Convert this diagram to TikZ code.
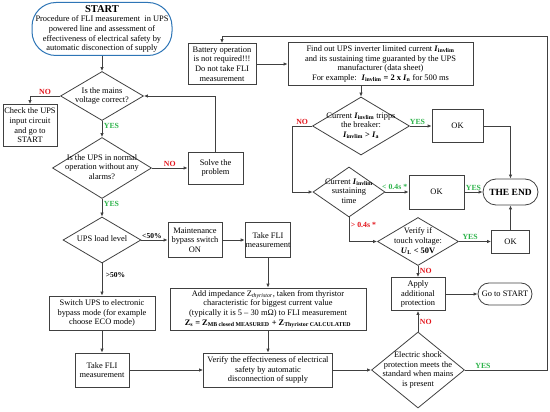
\documentclass[tikz,border=0pt]{standalone}
\usepackage{fontspec}
\setmainfont{Liberation Serif}
\usetikzlibrary{shapes.geometric, arrows.meta}

\definecolor{linegray}{HTML}{404040}
\definecolor{startblue}{HTML}{2E75B6}
\definecolor{nored}{HTML}{E3141B}
\definecolor{yesgreen}{HTML}{2DB34A}

% text of a diamond, kept out of the size of the shape
\newcommand{\dtext}[1]{\smash{\makebox[0pt]{\raisebox{-2pt}{\begin{tabular}{@{}c@{}}#1\end{tabular}}}}}
\newcommand{\Iinv}{\textbf{\textit{I}\textsubscript{invlim}}}

\tikzset{
  dims/.style 2 args={minimum width=#1pt, minimum height=#2pt},
  box/.style={draw=linegray, line width=0.8pt, align=center, inner sep=0.5pt, font=\fontsize{8.4}{9.6}\selectfont},
  decision/.style={draw=linegray, line width=0.8pt, diamond, inner sep=0pt, font=\fontsize{8.4}{9.6}\selectfont},
  terminal/.style={box, rounded corners=11pt},
  flow/.style={draw=linegray, line width=0.8pt},
  yes/.style={text=yesgreen, font=\bfseries\fontsize{7.8}{9}\selectfont, inner sep=1.5pt},
  no/.style={text=nored, font=\bfseries\fontsize{7.8}{9}\selectfont, inner sep=1.5pt},
  share/.style={font=\bfseries\fontsize{7.5}{9}\selectfont, inner sep=1.5pt},
}

\begin{document}
\begin{tikzpicture}[x=1pt, y=-1pt, >={Latex[length=4pt,width=3.5pt]}]
		\useasboundingbox (0,0) rectangle (550,412);

		% left column
		\node[terminal, draw=startblue, line width=1pt, rounded corners=24pt, dims={140}{53}] (start) at (102,29) {{\bfseries\fontsize{10.5}{12}\selectfont START}\\Procedure of FLI measurement \ in UPS\\powered line and assessment of\\effectiveness of electrical safety by\\automatic disconection of supply};
		\node[decision, dims={83}{49}] (d1) at (102,96) {\dtext{Is the mains\\voltage correct?}};
		\node[box, dims={54}{42}] (check) at (30,125.5) {Check the UPS\\input circuit\\and go to\\START};
		\node[decision, dims={99}{61}] (d2) at (102,168) {\dtext{Is the UPS in normal\\operation without any\\alarms?}};
		\node[box, dims={55}{32}] (solve) at (215.5,168) {Solve the\\problem};
		\node[decision, dims={78}{46}] (d3) at (102,240) {\dtext{UPS load level}};
		\node[box, dims={54}{35}] (maint) at (195,240) {Maintenance\\bypass switch\\ON};
		\node[box, dims={44}{35}] (take1) at (268,240) {Take FLI\\measurement};
		\node[box, dims={106}{34}] (switch) at (102,313) {Switch UPS to electronic\\bypass mode (for example\\choose ECO mode)};
		\node[box, dims={54}{34}] (take2) at (102,370) {Take FLI\\measurement};
		\node[box, dims={196}{42}] (add) at (268,309) {Add impedance Z\textsubscript{\textit{thyristor}}, taken from thyristor\\characteristic for biggest current value\\(typically it is 5 – 30 mΩ) to FLI measurement\\\textbf{Z\textsubscript{s} = Z\textsubscript{MB closed MEASURED} + Z\textsubscript{Thyristor CALCULATED}}};
		\node[box, dims={129}{34}] (verify) at (268,370) {Verify the effectiveness of electrical\\safety by automatic\\disconnection of supply};
		\node[decision, dims={93}{76}] (shock) at (418,370) {\dtext{Electric shock\\protection meets the\\standard when mains\\is present}};
		\node[box, dims={54}{33}] (apply) at (418,294) {Apply\\additional\\protection};
		\node[terminal, dims={54}{22}] (gostart) at (505,294) {Go to START};

		% right part
		\node[box, dims={68}{41}] (battery) at (222,64) {Battery operation\\is not required!!!\\Do not take FLI\\measurement};
		\node[box, dims={185}{43}] (find) at (380.5,64) {Find out UPS inverter limited current \Iinv\\and its sustaining time guaranted by the UPS\\manufacturer (data sheet)\\For example: \ \textbf{\textit{I}\textsubscript{invlim} = 2 x \textit{I}\textsubscript{n}} for 500 ms};
		\node[decision, dims={97}{58}] (dtrip) at (361,126) {\dtext{Current \Iinv{} tripps\\the breaker:\\\textbf{\textit{I}\textsubscript{invlim} > \textit{I}\textsubscript{a}}}};
		\node[box, dims={51}{33}] (ok1) at (457.5,126) {OK};
		\node[decision, dims={72}{50}] (dsus) at (349,192) {\dtext{Current \Iinv\\sustaining\\time}};
		\node[box, dims={55}{34}] (ok2) at (436.5,192) {OK};
		\node[terminal, dims={55}{26}, rounded corners=13pt, font=\bfseries\fontsize{9.5}{10}\selectfont] (theend) at (510.5,192) {THE END};
		\node[decision, dims={81}{48}] (dtouch) at (418,241.5) {\dtext{Verify if\\touch voltage:\\\textbf{\textit{U}\textsubscript{L} < 50V}}};
		\node[box, dims={38}{23}] (ok3) at (510.5,241.5) {OK};

		\coordinate (loopB) at (547,370);
		\coordinate (loopT) at (547,36);

		\path [->, flow] (start) edge (d1);
		\path [->, flow] (d1) edge node[yes, right, pos=0.3] {YES} (d2);
		\path [->, flow] (d2) edge node[no, above] {NO} (solve);
		\path [->, flow] (d2) edge node[yes, right, pos=0.3] {YES} (d3);
		\path [->, flow] (d3) edge node[share, above, pos=0.4] {<50\%} (maint);
		\path [->, flow] (d3) edge node[share, right, xshift=2pt, pos=0.35] {>50\%} (switch);
		\path [->, flow] (maint) edge (take1);
		\path [->, flow] (take1) edge (add);
		\path [->, flow] (add) edge (verify);
		\path [->, flow] (switch) edge (take2);
		\path [->, flow] (take2) edge (verify);
		\path [->, flow] (verify) edge (shock);
		\path [->, flow] (shock) edge node[no, right, pos=0.45] {NO} (apply);
		\path [->, flow] (dtouch) edge node[no, right, pos=0.45] {NO} (apply);
		\path [->, flow] (apply) edge (gostart);
		\path [->, flow] (battery) edge (find);
		\path [->, flow] (dtrip) edge node[yes, above, pos=0.35] {YES} (ok1);
		\path [->, flow] (dsus) edge node[yes, above, pos=0.4] {< 0.4s *} (ok2);
		\path [->, flow] (ok2) edge node[yes, above, pos=0.5] {YES} (theend);
		\path [->, flow] (dtouch) edge node[yes, above, pos=0.35] {YES} (ok3);
		\path [->, flow] (ok3) edge (theend);

		\draw [->, flow] (d1.west) -| node[no, above, pos=0.25] {NO} (check.north);
		\draw [->, flow] (solve.north) |- (d1.east);
		\draw [->, flow] (find.south -| dtrip) -- (dtrip);
		\draw [->, flow] (dtrip.west) -- node[no, above, pos=0.5] {NO} ++(-20,0) |- (dsus.west);
		\draw [->, flow] (dsus.south) |- node[no, right, pos=0.15] {> 0.4s *} (dtouch.west);
		\draw [->, flow] (ok1.east) -| (theend.north);
		\draw [->, flow] (shock.east) -- node[yes, above, pos=0.22] {YES} (loopB) -- (loopT) -| (battery.north);
\end{tikzpicture}
\end{document}
